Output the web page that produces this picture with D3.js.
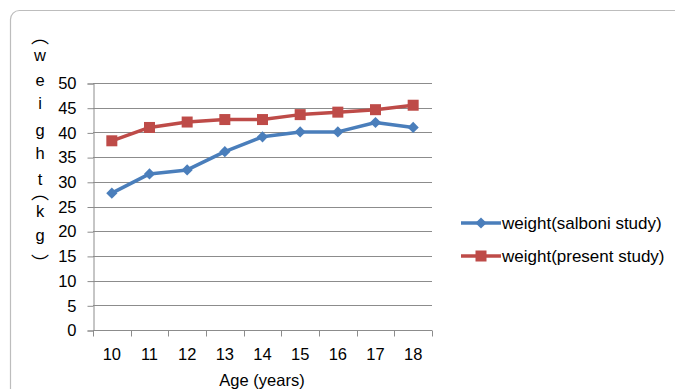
<!DOCTYPE html>
<html>
<head>
<meta charset="utf-8">
<script src="https://cdn.jsdelivr.net/npm/d3@7"></script>
<style>
  html, body { margin: 0; padding: 0; background: #fff; }
  svg { display: block; font-family: "Liberation Sans", Arial, sans-serif; }
</style>
</head>
<body>
<svg id="chart" width="675" height="389"></svg>
<script>
// Age groups (x categories)
const ages = ["10", "11", "12", "13", "14", "15", "16", "17", "18"];
// Mean weight (kg) per age
const salboniWeight = [27.7, 31.6, 32.4, 36.1, 39.1, 40.1, 40.1, 42.0, 41.0];
const presentWeight = [38.3, 41.0, 42.1, 42.6, 42.6, 43.6, 44.1, 44.6, 45.5];
// Y axis ticks
const yTicks = [0, 5, 10, 15, 20, 25, 30, 35, 40, 45, 50];
const seriesNames = ["weight(salboni study)", "weight(present study)"];

const svg = d3.select("#chart");
const plot = { left: 93, right: 432, top: 83, bottom: 330 };
const axisFont = 16.5;
const legendFont = 17;

// Outer frame
svg.append("rect")
  .attr("x", 10.5).attr("y", 10.5)
  .attr("width", 720).attr("height", 420)
  .attr("rx", 9).attr("ry", 9)
  .attr("fill", "#fff").attr("stroke", "#bdbdbd").attr("stroke-width", 1.2);

const x = d3.scaleBand().domain(ages).range([plot.left, plot.right]);
const y = d3.scaleLinear().domain([0, 50]).range([plot.bottom, plot.top]);

// Horizontal gridlines
svg.append("g").selectAll("line").data(yTicks).join("line")
  .attr("x1", plot.left).attr("x2", plot.right)
  .attr("y1", d => Math.round(y(d)) + 0.5).attr("y2", d => Math.round(y(d)) + 0.5)
  .attr("stroke", "#8c8c8c").attr("stroke-width", 1);

// Y axis
const yAxis = d3.axisLeft(y).tickValues(yTicks).tickSize(6).tickPadding(11);
const gy = svg.append("g").attr("transform", `translate(${plot.left + 0.5},0.5)`).call(yAxis);
gy.select(".domain").attr("stroke", "#8c8c8c");
gy.selectAll(".tick line").attr("stroke", "#8c8c8c");
gy.selectAll(".tick text").attr("font-size", axisFont).attr("fill", "#000")
  .attr("font-family", "Liberation Sans, Arial, sans-serif");

// X axis: ticks on category boundaries, labels centred in each band
const gx = svg.append("g").attr("transform", `translate(0,${plot.bottom + 0.5})`);
gx.append("line").attr("x1", plot.left).attr("x2", plot.right)
  .attr("stroke", "#8c8c8c");
const boundaries = ages.map(a => x(a)).concat([plot.right]);
gx.selectAll("line.tk").data(boundaries).join("line").attr("class", "tk")
  .attr("x1", d => Math.round(d) + 0.5).attr("x2", d => Math.round(d) + 0.5)
  .attr("y1", 0).attr("y2", 6).attr("stroke", "#8c8c8c");
gx.selectAll("text").data(ages).join("text")
  .attr("x", d => x(d) + x.bandwidth() / 2)
  .attr("y", 29)
  .attr("text-anchor", "middle").attr("font-size", axisFont).attr("fill", "#000")
  .text(d => d);

// X axis title
svg.append("text").attr("x", 262).attr("y", 386)
  .attr("text-anchor", "middle").attr("font-size", axisFont).attr("fill", "#000")
  .text("Age (years)");

// Y axis title, stacked vertically one glyph per line;
// brackets use the vertical presentation forms (ink sits off the em-box centre,
// so each carries a small shift)
const yTitle = [
  { c: "\uFE35", y: 41, bracket: true, shift: -6.5 },
  { c: "w", y: 61 }, { c: "e", y: 86 }, { c: "i", y: 109 },
  { c: "g", y: 136 }, { c: "h", y: 159 }, { c: "t", y: 185 },
  { c: "\uFE35", y: 197, bracket: true, shift: -6.5 },
  { c: "k", y: 217 }, { c: "g", y: 241 },
  { c: "\uFE36", y: 252, bracket: true, shift: 10 }
];
const yt = svg.append("g").attr("font-size", axisFont).attr("fill", "#000");
yTitle.forEach(t => {
  const el = yt.append("text").attr("x", 40).attr("text-anchor", "middle").text(t.c);
  if (t.bracket) {
    el.attr("font-family", "'Noto Sans CJK SC', 'Noto Sans CJK JP', sans-serif")
      .attr("font-size", 18)
      .attr("y", 0);
    const bb = el.node().getBBox();
    el.attr("y", t.y + t.shift - (bb.y + bb.height / 2));
  } else {
    el.attr("y", t.y);
  }
});

const cx = d => x(d) + x.bandwidth() / 2;
const line = d3.line().x((d, i) => cx(ages[i])).y(d => y(d));

const colors = ["#4a7ebb", "#be4b48"];
const diamond = d3.symbol().type(d3.symbolDiamond2).size(80);

// Series lines
[salboniWeight, presentWeight].forEach((vals, s) => {
  svg.append("path").datum(vals).attr("d", line)
    .attr("fill", "none").attr("stroke", colors[s])
    .attr("stroke-width", 3.5).attr("stroke-linejoin", "round");
});

// Markers: diamonds for salboni, squares for present
svg.append("g").selectAll("path").data(salboniWeight).join("path")
  .attr("transform", (d, i) => `translate(${cx(ages[i])},${y(d)})`)
  .attr("d", diamond()).attr("fill", colors[0]);
svg.append("g").selectAll("rect").data(presentWeight).join("rect")
  .attr("x", (d, i) => cx(ages[i]) - 5.5).attr("y", d => y(d) - 5.5)
  .attr("width", 11).attr("height", 11).attr("fill", colors[1]);

// Legend
const legend = svg.append("g");
seriesNames.forEach((name, s) => {
  const ly = 223 + s * 33;
  legend.append("line").attr("x1", 461).attr("x2", 501).attr("y1", ly).attr("y2", ly)
    .attr("stroke", colors[s]).attr("stroke-width", 3.5);
  if (s === 0) {
    legend.append("path").attr("transform", `translate(481,${ly})`)
      .attr("d", diamond()).attr("fill", colors[s]);
  } else {
    legend.append("rect").attr("x", 475.5).attr("y", ly - 5.5)
      .attr("width", 11).attr("height", 11).attr("fill", colors[s]);
  }
  legend.append("text").attr("x", 502).attr("y", ly + 6)
    .attr("font-size", legendFont).attr("fill", "#000").text(name);
});
</script>
</body>
</html>
